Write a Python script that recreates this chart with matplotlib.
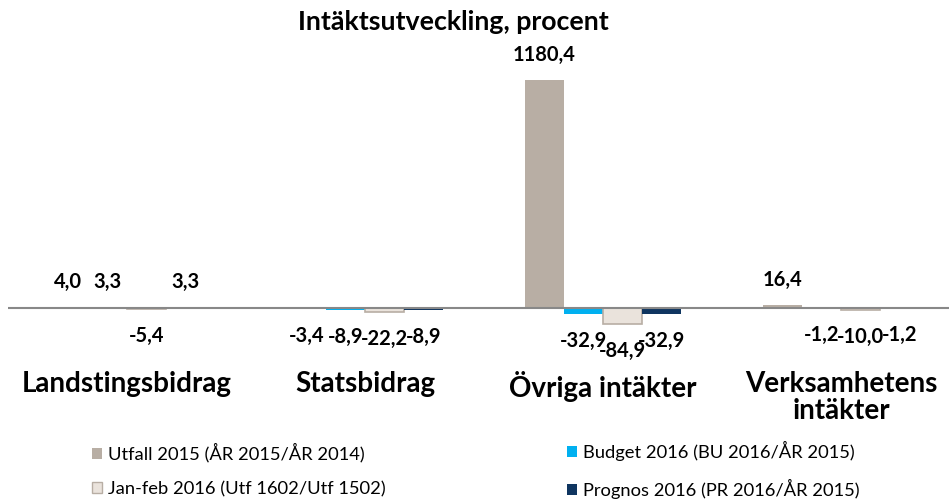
import numpy as np
import matplotlib
matplotlib.use("Agg")
import matplotlib.pyplot as plt
from matplotlib.patches import Patch
from matplotlib.transforms import blended_transform_factory

plt.rcParams['font.family'] = ['Lato', 'DejaVu Sans']

# Data
categories = ["Landstingsbidrag", "Statsbidrag", "Övriga intäkter", "Verksamhetens\nintäkter"]
series = ["Utfall 2015 (ÅR 2015/ÅR 2014)", "Budget 2016 (BU 2016/ÅR 2015)",
          "Jan-feb 2016 (Utf 1602/Utf 1502)", "Prognos 2016 (PR 2016/ÅR 2015)"]
utfall = [4.0, -3.4, 1180.4, 16.4]
budget = [3.3, -8.9, -32.9, -1.2]
janfeb = [-5.4, -22.2, -84.9, -10.0]
prognos = [3.3, -8.9, -32.9, -1.2]

values = [utfall, budget, janfeb, prognos]
colors = ["#B8AEA4", "#00B0F0", "#EAE3DC", "#0F3560"]
edges = ["none", "none", "#B8AEA4", "none"]

fig = plt.figure(figsize=(9.49, 5.01), dpi=100)
ax = fig.add_axes([8 / 949, (501 - 360) / 501, 941 / 949, 300 / 501])

x = np.arange(len(categories))
w = 0.164
for k, vals in enumerate(values):
    pos = x + (k - 1.5) * w
    ax.bar(pos, vals, width=w, color=colors[k], edgecolor=edges[k], linewidth=1.2, zorder=2)
    for xp, v in zip(pos, vals):
        off = 25 if v >= 0 else -27
        ax.annotate(f"{v:.1f}".replace(".", ","), (xp, v), xytext=(0, off),
                    textcoords="offset pixels", ha="center", va="center",
                    fontsize=14.5, fontweight="bold", color="black")

ax.axhline(0, color="#888888", linewidth=1.5, zorder=3)
ax.set_xlim(-0.5, -0.5 + 941 / 238)
ax.set_ylim(-269, 1284)
ax.axis("off")

# Kategorietiketter
trans = blended_transform_factory(ax.transData, ax.transAxes)
for xi, cat in zip(x, categories):
    ax.text(xi, -0.038, cat, transform=trans, ha="center", va="top",
            fontsize=20, fontweight="bold", linespacing=1.05)

fig.text(453 / 949, 0.957, "Intäktsutveckling, procent", ha="center", va="center",
         fontsize=19.3, fontweight="bold")

# Legend, två kolumner
for i, (cols, xl) in enumerate([([0, 2], 92), ([1, 3], 567)]):
    h = [Patch(facecolor=colors[c], edgecolor=edges[c]) for c in cols]
    lab = [series[c] for c in cols]
    fig.legend(h, lab, loc="center left", bbox_to_anchor=(xl / 949, 1 - 470 / 501),
               frameon=False, fontsize=13.2, handlelength=0.55, handleheight=0.55,
               handletextpad=0.3, labelspacing=1.0, borderpad=0, borderaxespad=0)

fig.savefig("out.png", dpi=100)
